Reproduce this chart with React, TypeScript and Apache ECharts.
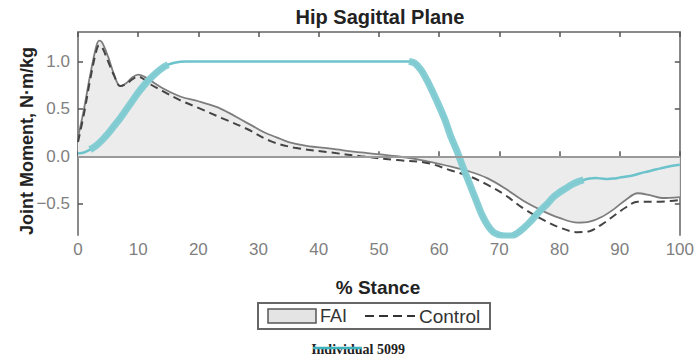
import React, { useEffect, useRef } from "react";
import * as echarts from "echarts";

// % stance, FAI group mean (N·m/kg)
const faiX = [0, 1, 2, 3, 3.5, 4, 5, 6, 7, 8, 9, 10, 11, 12, 14, 17, 20, 23, 25, 27, 29, 31, 33, 35, 38, 42, 47, 53, 57, 60, 62, 65, 68, 71, 74, 77, 80, 83, 85, 87, 89, 91, 93, 95, 97, 100];
const faiY = [0.2, 0.5, 0.85, 1.15, 1.22, 1.2, 1.05, 0.86, 0.74, 0.77, 0.83, 0.86, 0.84, 0.8, 0.72, 0.63, 0.58, 0.52, 0.46, 0.39, 0.32, 0.25, 0.2, 0.15, 0.11, 0.08, 0.04, 0.0, -0.04, -0.08, -0.11, -0.16, -0.23, -0.34, -0.47, -0.57, -0.65, -0.7, -0.69, -0.64, -0.56, -0.46, -0.39, -0.41, -0.44, -0.43];

// Control group mean
const ctrlX = [0, 1, 2, 3, 3.5, 4, 5, 6, 7, 8, 9, 10, 11, 12, 14, 17, 20, 24, 28, 32, 36, 42, 47, 53, 58, 62, 65, 68, 71, 74, 77, 80, 83, 85, 87, 89, 91, 93, 96, 100];
const ctrlY = [0.15, 0.45, 0.8, 1.1, 1.17, 1.15, 1.0, 0.85, 0.74, 0.76, 0.81, 0.84, 0.81, 0.76, 0.69, 0.59, 0.51, 0.4, 0.29, 0.16, 0.09, 0.04, 0.0, -0.04, -0.07, -0.15, -0.21, -0.3, -0.41, -0.55, -0.66, -0.75, -0.8, -0.79, -0.72, -0.63, -0.54, -0.48, -0.48, -0.46];

// Individual 5099
const indX = [0, 1, 2, 3, 4, 5, 6, 7, 8, 9, 10, 11, 12, 13, 14, 15, 16, 17, 18, 30, 45, 55, 56, 57, 58, 59, 60, 61, 62, 63, 64, 65, 66, 67, 68, 69, 70, 71, 72, 73, 74, 75, 76, 77, 78, 79, 80, 81, 82, 83, 84, 85, 86, 87, 88, 89, 90, 92, 94, 96, 98, 100];
const indY = [0.03, 0.04, 0.07, 0.11, 0.17, 0.24, 0.32, 0.4, 0.49, 0.58, 0.67, 0.75, 0.82, 0.88, 0.93, 0.965, 0.985, 0.997, 1.0, 1.0, 1.0, 1.0, 0.98, 0.91, 0.8, 0.67, 0.53, 0.38, 0.2, 0.05, -0.12, -0.28, -0.44, -0.6, -0.72, -0.8, -0.83, -0.84, -0.84, -0.81, -0.76, -0.7, -0.63, -0.56, -0.5, -0.43, -0.38, -0.34, -0.3, -0.27, -0.25, -0.235, -0.23, -0.235, -0.24, -0.235, -0.225, -0.205, -0.17, -0.14, -0.11, -0.09];
// stretches of the individual's trace drawn heavy in the figure
const heavyRanges = [[2, 15], [55, 71], [72, 84]];

const xTicks = [0, 10, 20, 30, 40, 50, 60, 70, 80, 90, 100];
const yTicks = [-0.5, 0, 0.5, 1.0];

const title = "Hip Sagittal Plane";
const xName = "% Stance";
const yName = "Joint Moment, N·m/kg";
const legendNames = ["FAI", "Control"];
const caption = "Individual 5099";

const GRAY_AX = "#8a8a8a";
const TEAL = "#6cc3cb";
const SANS = "Liberation Sans, Arial, Helvetica, sans-serif";

export default function App() {
  const ref = useRef<HTMLDivElement>(null);
  useEffect(() => {
    if (!ref.current) return;
    const chart = echarts.init(ref.current, null, { renderer: "svg" });
    const fai = faiX.map((x, i) => [x, faiY[i]]);
    const ctrl = ctrlX.map((x, i) => [x, ctrlY[i]]);
    const ind = indX.map((x, i) => [x, indY[i]]);
    const heavy = indX.map((x, i) =>
      heavyRanges.some(([a, b]) => x >= a && x <= b) ? [x, indY[i]] : [x, null]
    );
    const fmt = (v: number) => {
      const s = Math.abs(v).toFixed(1);
      return v < 0 ? "\u2212" + s : s;
    };
    chart.setOption({
      animation: false,
      grid: { left: 78, right: 15, top: 32, bottom: 125 },
      xAxis: [
        {
          type: "value",
          min: 0,
          max: 100,
          interval: 10,
          axisLine: { show: true, lineStyle: { color: GRAY_AX, width: 2 } },
          axisTick: { show: true, inside: true, length: 5, lineStyle: { color: "#555", width: 1.5 } },
          axisLabel: { color: "#808080", fontSize: 17, fontFamily: SANS, margin: 6, customValues: xTicks },
          splitLine: { show: false },
        },
        {
          type: "value",
          position: "top",
          min: 0,
          max: 100,
          interval: 10,
          axisLine: { show: true, onZero: false, lineStyle: { color: GRAY_AX, width: 2 } },
          axisTick: { show: true, inside: true, length: 5, lineStyle: { color: "#555", width: 1.5 } },
          axisLabel: { show: false },
          splitLine: { show: false },
        },
      ],
      yAxis: [
        {
          type: "value",
          min: -0.83,
          max: 1.31,
          axisLine: { show: true, onZero: false, lineStyle: { color: GRAY_AX, width: 2 } },
          axisTick: { show: true, inside: true, length: 5, customValues: yTicks, lineStyle: { color: "#555", width: 1.5 } },
          axisLabel: { color: "#808080", fontSize: 17, fontFamily: SANS, margin: 8, customValues: yTicks, formatter: fmt },
          splitLine: { show: false },
        },
        {
          type: "value",
          position: "right",
          min: -0.83,
          max: 1.31,
          axisLine: { show: true, onZero: false, lineStyle: { color: GRAY_AX, width: 2 } },
          axisTick: { show: true, inside: true, length: 5, customValues: yTicks, lineStyle: { color: "#555", width: 1.5 } },
          axisLabel: { show: false },
          splitLine: { show: false },
        },
      ],
      series: [
        {
          name: legendNames[0],
          type: "line",
          data: fai,
          smooth: 0.35,
          symbol: "none",
          lineStyle: { color: "#7d7d7d", width: 1.8 },
          areaStyle: { color: "#ececec", opacity: 1, origin: 0 },
          markLine: {
            silent: true,
            symbol: "none",
            label: { show: false },
            lineStyle: { color: "#9a9a9a", width: 1.8, type: "solid" },
            data: [{ yAxis: 0 }],
          },
          z: 1,
        },
        {
          name: legendNames[1],
          type: "line",
          data: ctrl,
          smooth: 0.35,
          symbol: "none",
          lineStyle: { color: "#444", width: 2, type: [8, 5] },
          z: 2,
        },
        {
          name: caption,
          type: "line",
          data: ind,
          smooth: 0.3,
          symbol: "none",
          lineStyle: { color: TEAL, width: 2.5 },
          z: 3,
        },
        {
          name: caption + " heavy",
          type: "line",
          data: heavy,
          smooth: 0.3,
          connectNulls: false,
          symbol: "none",
          lineStyle: { color: "#7fcbd2", width: 7, opacity: 0.95 },
          z: 4,
        },
      ],
      graphic: [
        {
          type: "text",
          x: 380,
          y: 17,
          style: { text: title, align: "center", verticalAlign: "middle", font: `bold 20px ${SANS}`, fill: "#222" },
        },
        {
          type: "text",
          x: 27,
          y: 141,
          rotation: Math.PI / 2,
          style: { text: yName, align: "center", verticalAlign: "middle", font: `bold 18px ${SANS}`, fill: "#222" },
        },
        {
          type: "text",
          x: 378,
          y: 287,
          style: { text: xName, align: "center", verticalAlign: "middle", font: `bold 19px ${SANS}`, fill: "#222" },
        },
        {
          type: "rect",
          shape: { x: 258, y: 303, width: 232, height: 26 },
          style: { fill: "#fff", stroke: "#666", lineWidth: 2 },
        },
        {
          type: "rect",
          shape: { x: 268, y: 309, width: 48, height: 14 },
          style: { fill: "#e4e4e4", stroke: "#555", lineWidth: 1.5 },
        },
        {
          type: "text",
          x: 320,
          y: 316,
          style: { text: legendNames[0], align: "left", verticalAlign: "middle", font: `18px ${SANS}`, fill: "#333" },
        },
        {
          type: "line",
          shape: { x1: 365, y1: 316, x2: 415, y2: 316 },
          style: { stroke: "#333", lineWidth: 2, lineDash: [9, 5] },
        },
        {
          type: "text",
          x: 419,
          y: 316,
          style: { text: legendNames[1], align: "left", verticalAlign: "middle", font: `19px ${SANS}`, fill: "#333" },
        },
        {
          type: "text",
          x: 358,
          y: 349,
          style: { text: caption, align: "center", verticalAlign: "middle", font: `bold 14px Liberation Serif, Times New Roman, serif`, fill: "#222" },
        },
        {
          type: "line",
          shape: { x1: 313, y1: 348, x2: 362, y2: 348 },
          style: { stroke: "#3fb2bd", lineWidth: 2.5 },
        },
      ],
    });
    return () => chart.dispose();
  }, []);
  return <div ref={ref} style={{ width: 697, height: 360, position: "absolute", left: 0, top: 0 }} />;
}
